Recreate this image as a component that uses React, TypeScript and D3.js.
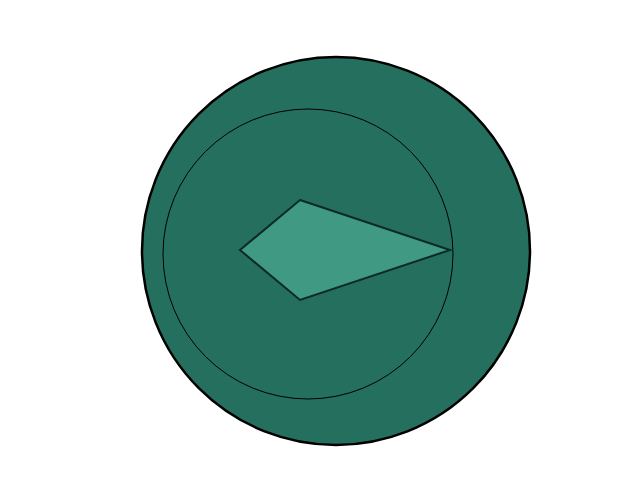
import { useEffect, useRef } from 'react'
import * as d3 from 'd3'

// radar axes, clockwise starting at 12 o'clock
const axes = ['A', 'B', 'C', 'D']
const values = [1.0, 3.0, 1.0, 1.2]
const maxValue = 3.0

const W = 640
const H = 480

export default function App() {
  const svgRef = useRef<SVGSVGElement | null>(null)

  useEffect(() => {
    if (!svgRef.current) return
    const svg = d3.select(svgRef.current)
    svg.selectAll('*').remove()

    // background disc
    svg.append('circle')
      .attr('cx', 336)
      .attr('cy', 251)
      .attr('r', 194)
      .attr('fill', '#256f5f')
      .attr('stroke', '#000')
      .attr('stroke-width', 2.5)

    // outer grid ring
    svg.append('circle')
      .attr('cx', 308)
      .attr('cy', 254)
      .attr('r', 145)
      .attr('fill', 'none')
      .attr('stroke', '#000')
      .attr('stroke-width', 1)

    const r = d3.scaleLinear().domain([0, maxValue]).range([0, 150])
    const angle = d3.scalePoint<string>()
      .domain(axes)
      .range([0, 2 * Math.PI * (axes.length - 1) / axes.length])

    const line = d3.lineRadial<number>()
      .angle((_, i) => angle(axes[i]) ?? 0)
      .radius(d => r(d))
      .curve(d3.curveLinearClosed)

    svg.append('g')
      .attr('transform', 'translate(300,250)')
      .append('path')
      .datum(values)
      .attr('d', line)
      .attr('fill', '#3f9983')
      .attr('stroke', '#0d2a23')
      .attr('stroke-width', 2)
      .attr('stroke-linejoin', 'miter')
  }, [])

  return (
    <svg
      ref={svgRef}
      width={W}
      height={H}
      style={{ position: 'absolute', left: 0, top: 0, background: '#fff' }}
    />
  )
}
